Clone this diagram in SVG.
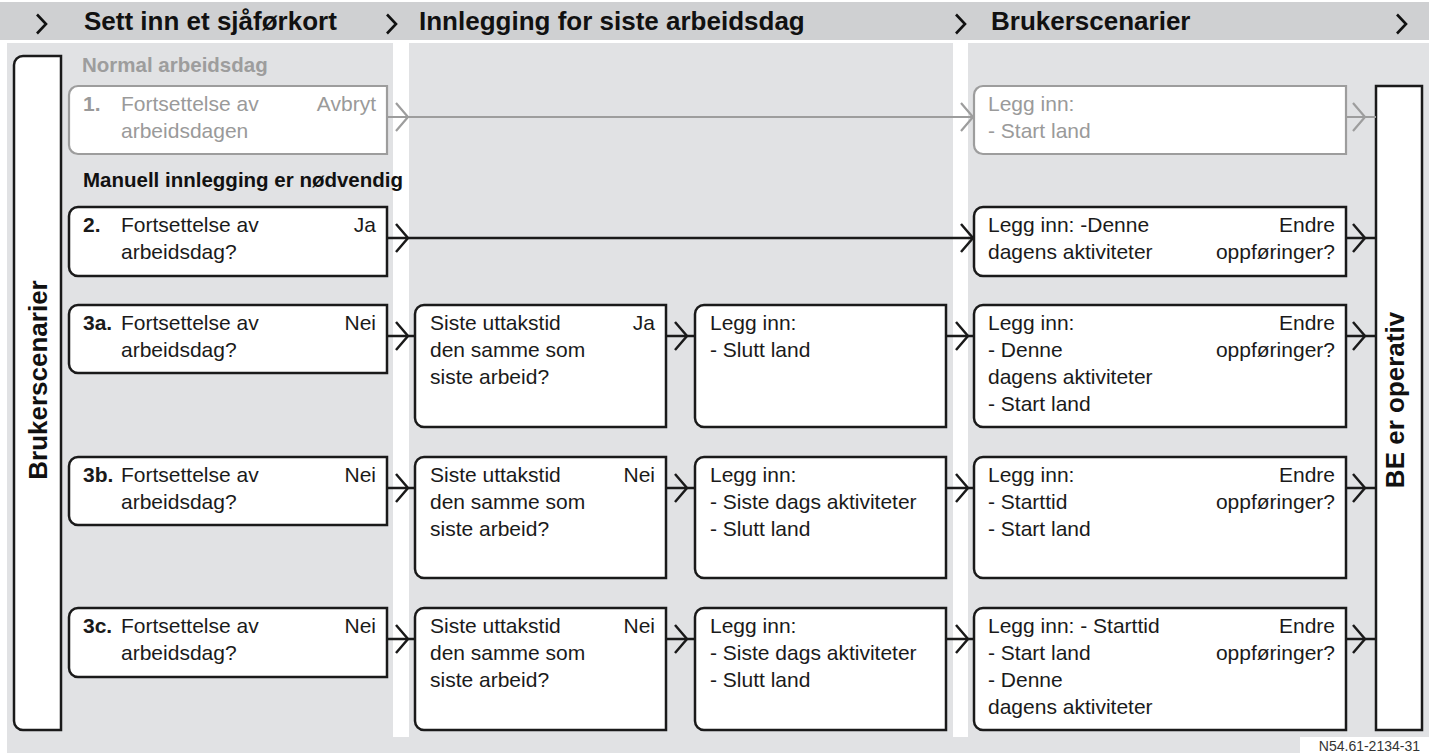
<svg xmlns="http://www.w3.org/2000/svg" xmlns:xlink="http://www.w3.org/1999/xlink" width="1429" height="753" viewBox="0 0 1429 753">
<style>
.t{font-family:"Liberation Sans",Arial,sans-serif;font-size:21px;fill:#1a1a1a}
.b{font-weight:bold}
.g{fill:#9a9a9a}
.e{text-anchor:end}
.h{font-family:"Liberation Sans",Arial,sans-serif;font-size:26px;font-weight:bold;fill:#111}
.s{font-family:"Liberation Sans",Arial,sans-serif;font-size:20.5px;font-weight:bold}
.box{fill:#fff;stroke:#1a1a1a;stroke-width:2.5}
.gbox{fill:#fff;stroke:#9d9d9d;stroke-width:2.2}
.ln{fill:none;stroke:#1a1a1a;stroke-width:2.5}
.gln{fill:none;stroke:#9d9d9d;stroke-width:2.2}
.hc{fill:none;stroke:#111;stroke-width:2.6}
</style>
<defs>
<path id="chev" d="M-12,-14 L0,0 L-12,14"/>
<path id="hchev" d="M-9,-9.5 L0,0 L-9,9.5"/>
</defs>
<g id="background">
<rect x="0" y="2" width="1429" height="38" fill="#cfd0d2"/>
<rect x="7" y="43" width="1422" height="710" fill="#e1e2e4"/>
<rect x="393" y="43" width="16" height="694" fill="#fff"/>
<rect x="953" y="43" width="15" height="694" fill="#fff"/>
<rect x="1300" y="737" width="129" height="16" fill="#fff"/>
</g>
<g id="header">
<use xlink:href="#hchev" x="46" y="24" class="hc"/>
<use xlink:href="#hchev" x="396" y="24" class="hc"/>
<use xlink:href="#hchev" x="965" y="24" class="hc"/>
<use xlink:href="#hchev" x="1406" y="24" class="hc"/>
<text class="h" x="84" y="30">Sett inn et sjåførkort</text>
<text class="h" x="419" y="30">Innlegging for siste arbeidsdag</text>
<text class="h" x="991" y="30">Brukerscenarier</text>
</g>
<g id="sections">
<text class="s" x="82" y="72" fill="#9d9d9d">Normal arbeidsdag</text>
<text class="s" x="83" y="187" fill="#111">Manuell innlegging er nødvendig</text>
</g>
<g id="side-left">
<path class="box" d="M23,56 H61 V730 H23 A9,9 0 0 1 14,721 V65 A9,9 0 0 1 23,56 Z"/>
<text class="h" text-anchor="middle" transform="translate(47,380) rotate(-90)">Brukerscenarier</text>
</g>
<g id="side-right">
<rect class="box" x="1376" y="86" width="46" height="644"/>
<text class="h" text-anchor="middle" transform="translate(1404,400) rotate(-90)">BE er operativ</text>
</g>
<g id="connectors">
<path class="gln" d="M387,117 H974 M1346,117 H1376"/>
<use xlink:href="#chev" x="408" y="117" class="gln"/>
<use xlink:href="#chev" x="973" y="117" class="gln"/>
<use xlink:href="#chev" x="1365" y="117" class="gln"/>
<path class="ln" d="M387,238 H974 M1346,238 H1376"/>
<use xlink:href="#chev" x="408" y="238" class="ln"/>
<use xlink:href="#chev" x="973" y="238" class="ln"/>
<use xlink:href="#chev" x="1365" y="238" class="ln"/>
<path class="ln" d="M387,336 H415 M666,336 H695 M946,336 H974 M1346,336 H1376"/>
<use xlink:href="#chev" x="408" y="336" class="ln"/>
<use xlink:href="#chev" x="687" y="336" class="ln"/>
<use xlink:href="#chev" x="968" y="336" class="ln"/>
<use xlink:href="#chev" x="1365" y="336" class="ln"/>
<path class="ln" d="M387,488 H415 M666,488 H695 M946,488 H974 M1346,488 H1376"/>
<use xlink:href="#chev" x="408" y="488" class="ln"/>
<use xlink:href="#chev" x="687" y="488" class="ln"/>
<use xlink:href="#chev" x="968" y="488" class="ln"/>
<use xlink:href="#chev" x="1365" y="488" class="ln"/>
<path class="ln" d="M387,639 H415 M666,639 H695 M946,639 H974 M1346,639 H1376"/>
<use xlink:href="#chev" x="408" y="639" class="ln"/>
<use xlink:href="#chev" x="687" y="639" class="ln"/>
<use xlink:href="#chev" x="968" y="639" class="ln"/>
<use xlink:href="#chev" x="1365" y="639" class="ln"/>
</g>
<g id="n1">
<path class="gbox" d="M78,86 H387 V154 H78 A9,9 0 0 1 69,145 V95 A9,9 0 0 1 78,86 Z"/>
<text class="t b g" x="83" y="111">1.</text>
<text class="t g" x="121" y="111">Fortsettelse av</text>
<text class="t g" x="121" y="138">arbeidsdagen</text>
<text class="t g e" x="376" y="111">Avbryt</text>
</g>
<g id="n1r">
<path class="gbox" d="M983,86 H1346 V154 H983 A9,9 0 0 1 974,145 V95 A9,9 0 0 1 983,86 Z"/>
<text class="t g" x="988" y="111">Legg inn:</text>
<text class="t g" x="988" y="138">- Start land</text>
</g>
<g id="n2">
<path class="box" d="M78,207 H387 V276 H78 A9,9 0 0 1 69,267 V216 A9,9 0 0 1 78,207 Z"/>
<text class="t b" x="83" y="232">2.</text>
<text class="t" x="121" y="232">Fortsettelse av</text>
<text class="t" x="121" y="259">arbeidsdag?</text>
<text class="t e" x="376" y="232">Ja</text>
</g>
<g id="n2r">
<path class="box" d="M983,207 H1346 V276 H983 A9,9 0 0 1 974,267 V216 A9,9 0 0 1 983,207 Z"/>
<text class="t" x="988" y="232">Legg inn: -Denne</text>
<text class="t" x="988" y="259">dagens aktiviteter</text>
<text class="t e" x="1335" y="232">Endre</text>
<text class="t e" x="1335" y="259">oppføringer?</text>
</g>
<g id="n3a">
<path class="box" d="M78,305 H387 V373 H78 A9,9 0 0 1 69,364 V314 A9,9 0 0 1 78,305 Z"/>
<text class="t b" x="83" y="330">3a.</text>
<text class="t" x="121" y="330">Fortsettelse av</text>
<text class="t" x="121" y="357">arbeidsdag?</text>
<text class="t e" x="376" y="330">Nei</text>
</g>
<g id="n3a-m1">
<path class="box" d="M424,305 H666 V427 H424 A9,9 0 0 1 415,418 V314 A9,9 0 0 1 424,305 Z"/>
<text class="t" x="430" y="330">Siste uttakstid</text>
<text class="t" x="430" y="357">den samme som</text>
<text class="t" x="430" y="384">siste arbeid?</text>
<text class="t e" x="655" y="330">Ja</text>
</g>
<g id="n3a-m2">
<path class="box" d="M704,305 H946 V427 H704 A9,9 0 0 1 695,418 V314 A9,9 0 0 1 704,305 Z"/>
<text class="t" x="710" y="330">Legg inn:</text>
<text class="t" x="710" y="357">- Slutt land</text>
</g>
<g id="n3a-r">
<path class="box" d="M983,305 H1346 V427 H983 A9,9 0 0 1 974,418 V314 A9,9 0 0 1 983,305 Z"/>
<text class="t" x="988" y="330">Legg inn:</text>
<text class="t" x="988" y="357">- Denne</text>
<text class="t" x="988" y="384">dagens aktiviteter</text>
<text class="t" x="988" y="411">- Start land</text>
<text class="t e" x="1335" y="330">Endre</text>
<text class="t e" x="1335" y="357">oppføringer?</text>
</g>
<g id="n3b">
<path class="box" d="M78,457 H387 V525 H78 A9,9 0 0 1 69,516 V466 A9,9 0 0 1 78,457 Z"/>
<text class="t b" x="83" y="482">3b.</text>
<text class="t" x="121" y="482">Fortsettelse av</text>
<text class="t" x="121" y="509">arbeidsdag?</text>
<text class="t e" x="376" y="482">Nei</text>
</g>
<g id="n3b-m1">
<path class="box" d="M424,457 H666 V578 H424 A9,9 0 0 1 415,569 V466 A9,9 0 0 1 424,457 Z"/>
<text class="t" x="430" y="482">Siste uttakstid</text>
<text class="t" x="430" y="509">den samme som</text>
<text class="t" x="430" y="536">siste arbeid?</text>
<text class="t e" x="655" y="482">Nei</text>
</g>
<g id="n3b-m2">
<path class="box" d="M704,457 H946 V578 H704 A9,9 0 0 1 695,569 V466 A9,9 0 0 1 704,457 Z"/>
<text class="t" x="710" y="482">Legg inn:</text>
<text class="t" x="710" y="509">- Siste dags aktiviteter</text>
<text class="t" x="710" y="536">- Slutt land</text>
</g>
<g id="n3b-r">
<path class="box" d="M983,457 H1346 V578 H983 A9,9 0 0 1 974,569 V466 A9,9 0 0 1 983,457 Z"/>
<text class="t" x="988" y="482">Legg inn:</text>
<text class="t" x="988" y="509">- Starttid</text>
<text class="t" x="988" y="536">- Start land</text>
<text class="t e" x="1335" y="482">Endre</text>
<text class="t e" x="1335" y="509">oppføringer?</text>
</g>
<g id="n3c">
<path class="box" d="M78,608 H387 V677 H78 A9,9 0 0 1 69,668 V617 A9,9 0 0 1 78,608 Z"/>
<text class="t b" x="83" y="633">3c.</text>
<text class="t" x="121" y="633">Fortsettelse av</text>
<text class="t" x="121" y="660">arbeidsdag?</text>
<text class="t e" x="376" y="633">Nei</text>
</g>
<g id="n3c-m1">
<path class="box" d="M424,608 H666 V730 H424 A9,9 0 0 1 415,721 V617 A9,9 0 0 1 424,608 Z"/>
<text class="t" x="430" y="633">Siste uttakstid</text>
<text class="t" x="430" y="660">den samme som</text>
<text class="t" x="430" y="687">siste arbeid?</text>
<text class="t e" x="655" y="633">Nei</text>
</g>
<g id="n3c-m2">
<path class="box" d="M704,608 H946 V730 H704 A9,9 0 0 1 695,721 V617 A9,9 0 0 1 704,608 Z"/>
<text class="t" x="710" y="633">Legg inn:</text>
<text class="t" x="710" y="660">- Siste dags aktiviteter</text>
<text class="t" x="710" y="687">- Slutt land</text>
</g>
<g id="n3c-r">
<path class="box" d="M983,608 H1346 V730 H983 A9,9 0 0 1 974,721 V617 A9,9 0 0 1 983,608 Z"/>
<text class="t" x="988" y="633">Legg inn: - Starttid</text>
<text class="t" x="988" y="660">- Start land</text>
<text class="t" x="988" y="687">- Denne</text>
<text class="t" x="988" y="714">dagens aktiviteter</text>
<text class="t e" x="1335" y="633">Endre</text>
<text class="t e" x="1335" y="660">oppføringer?</text>
</g>
<g id="label">
<text x="1420" y="751" text-anchor="end" font-family="Liberation Sans, Arial, sans-serif" font-size="14" fill="#333">N54.61-2134-31</text>
</g>
</svg>
